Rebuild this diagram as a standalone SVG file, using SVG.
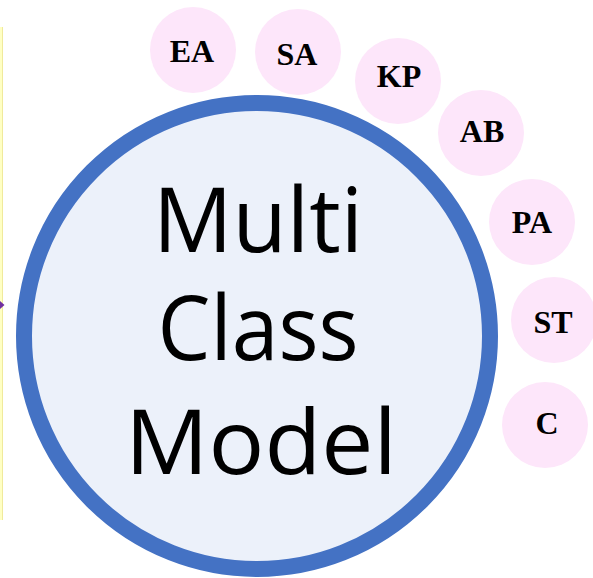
<svg xmlns="http://www.w3.org/2000/svg" width="593" height="578" viewBox="0 0 593 578">
  <style>
    .hub { fill: #ECF1FA; stroke: #4472C4; stroke-width: 16; }
    .hub-label { font-family: "Open Sans", "Noto Sans", sans-serif; font-size: 90px; fill: #000000; text-anchor: middle; }
    .tag { fill: #FDE6FA; }
    .tag-label { font-family: "Liberation Serif", "Times New Roman", serif; font-weight: bold; font-size: 32px; fill: #000000; text-anchor: middle; }
  </style>

  <!-- partial panel edge at the left border -->
  <rect x="0" y="27" width="3" height="493" fill="#FFFFC4"/>
  <line x1="2.5" y1="27" x2="2.5" y2="520" stroke="#F0EA9C" stroke-width="1"/>

  <g id="connectors">
    <polygon points="0,301 4.5,305 0,309" fill="#7030A0"/>
  </g>

  <g id="hub">
    <circle class="hub" cx="257" cy="336" r="233"/>
    <text class="hub-label" x="258" y="252" textLength="210" lengthAdjust="spacingAndGlyphs">Multi</text>
    <text class="hub-label" x="258" y="360" textLength="201" lengthAdjust="spacingAndGlyphs">Class</text>
    <text class="hub-label" x="261" y="474" textLength="272" lengthAdjust="spacingAndGlyphs">Model</text>
  </g>

  <g id="tag-EA">
    <circle class="tag" cx="193" cy="50" r="43"/>
    <text class="tag-label" x="192" y="62">EA</text>
  </g>
  <g id="tag-SA">
    <circle class="tag" cx="298" cy="52" r="43"/>
    <text class="tag-label" x="297" y="65">SA</text>
  </g>
  <g id="tag-KP">
    <circle class="tag" cx="398" cy="81" r="43"/>
    <text class="tag-label" x="399" y="87">KP</text>
  </g>
  <g id="tag-AB">
    <circle class="tag" cx="481" cy="133" r="43"/>
    <text class="tag-label" x="482" y="142">AB</text>
  </g>
  <g id="tag-PA">
    <circle class="tag" cx="532" cy="222" r="43"/>
    <text class="tag-label" x="532" y="233">PA</text>
  </g>
  <g id="tag-ST">
    <circle class="tag" cx="554" cy="320" r="43"/>
    <text class="tag-label" x="553" y="333">ST</text>
  </g>
  <g id="tag-C">
    <circle class="tag" cx="545" cy="425" r="43"/>
    <text class="tag-label" x="547" y="434">C</text>
  </g>
</svg>
